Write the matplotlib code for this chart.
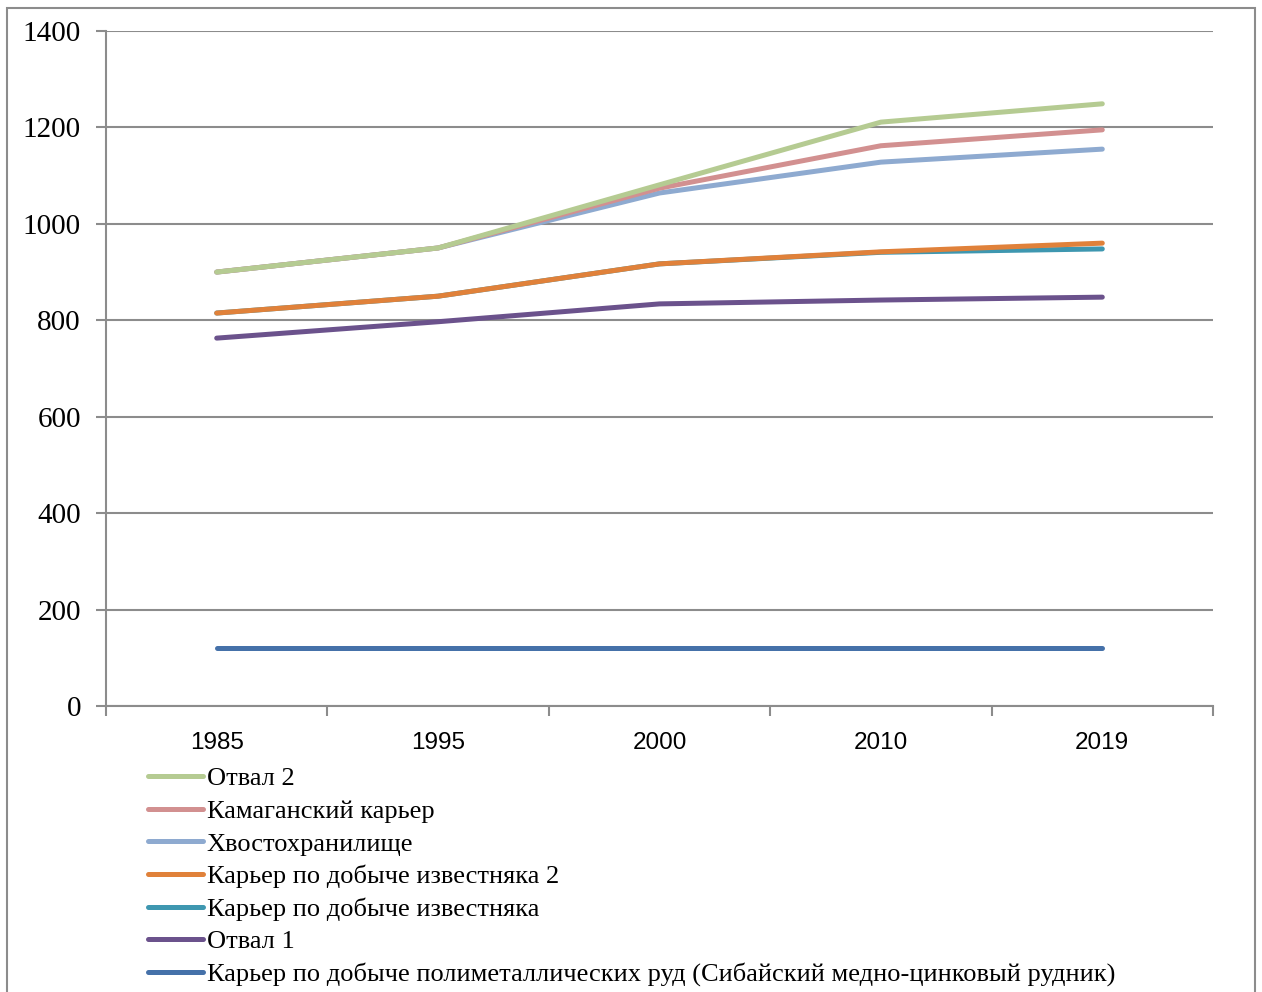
import matplotlib
matplotlib.use("Agg")
import matplotlib.pyplot as plt
from matplotlib.patches import Rectangle

years = ["1985", "1995", "2000", "2010", "2019"]

otval2 = [900, 950, 1081, 1211, 1249]
kamagan = [900, 950, 1074, 1162, 1195]
khvost = [900, 950, 1064, 1128, 1155]
izvest2 = [815, 850, 917, 942, 960]
izvest = [815, 850, 917, 941, 948]
otval1 = [763, 797, 834, 842, 848]
polymetal = [120, 120, 120, 120, 120]

labels = [
    "Отвал 2",
    "Камаганский карьер",
    "Хвостохранилище",
    "Карьер по добыче известняка 2",
    "Карьер по добыче известняка",
    "Отвал 1",
    "Карьер по добыче полиметаллических руд (Сибайский медно-цинковый рудник)",
]
series = [otval2, kamagan, khvost, izvest2, izvest, otval1, polymetal]
colors = ["#b5cb92", "#d29090", "#8eaad0", "#e0813a", "#3e97b0", "#6b528c", "#4571a9"]

fig = plt.figure(figsize=(12.62, 9.92), dpi=100)
fig.patches.append(Rectangle((7 / 1262, -0.05), (1255 - 7) / 1262, 1 - 8 / 992 + 0.05,
                             transform=fig.transFigure, fill=False,
                             edgecolor="#8c8c8c", linewidth=1.5))

ax = fig.add_axes([106 / 1262, 1 - 706 / 992, (1213 - 106) / 1262, (706 - 31) / 992])
x = list(range(len(years)))

handles = {}
for lab, vals, col in reversed(list(zip(labels, series, colors))):
    (ln,) = ax.plot(x, vals, color=col, linewidth=3.6, solid_capstyle="round",
                    solid_joinstyle="round", label=lab)
    handles[lab] = ln

ax.set_xlim(-0.5, len(years) - 0.5)
ax.set_ylim(0, 1400)
ax.set_yticks(range(0, 1401, 200))
ax.yaxis.grid(True, color="#8c8c8c", linewidth=1.5)
ax.set_axisbelow(True)

ax.set_xticks([i - 0.5 for i in range(len(years) + 1)])
ax.set_xticklabels([])
ax.set_xticks(x, minor=True)
ax.set_xticklabels(years, minor=True, fontsize=17.5, family="Liberation Sans")
ax.tick_params(axis="x", which="minor", length=0, pad=19)
ax.tick_params(axis="x", which="major", length=7, width=1.5, color="#8c8c8c",
               direction="out")
ax.tick_params(axis="y", length=7, width=1.5, color="#8c8c8c", pad=11)
for t in ax.get_yticklabels():
    t.set_family("Liberation Serif")
    t.set_fontsize(21)

for side in ["top", "right"]:
    ax.spines[side].set_visible(False)
for side in ["left", "bottom"]:
    ax.spines[side].set_color("#8c8c8c")
    ax.spines[side].set_linewidth(1.5)

leg = fig.legend([handles[l] for l in labels], labels,
                 loc="upper left", bbox_to_anchor=(148 / 1262, 1 - 767 / 992),
                 frameon=False, prop={"family": "Liberation Serif", "size": 19},
                 handlelength=2.08, handletextpad=0.15, labelspacing=0.345,
                 borderpad=0, borderaxespad=0)

fig.savefig("out.png", dpi=100)
